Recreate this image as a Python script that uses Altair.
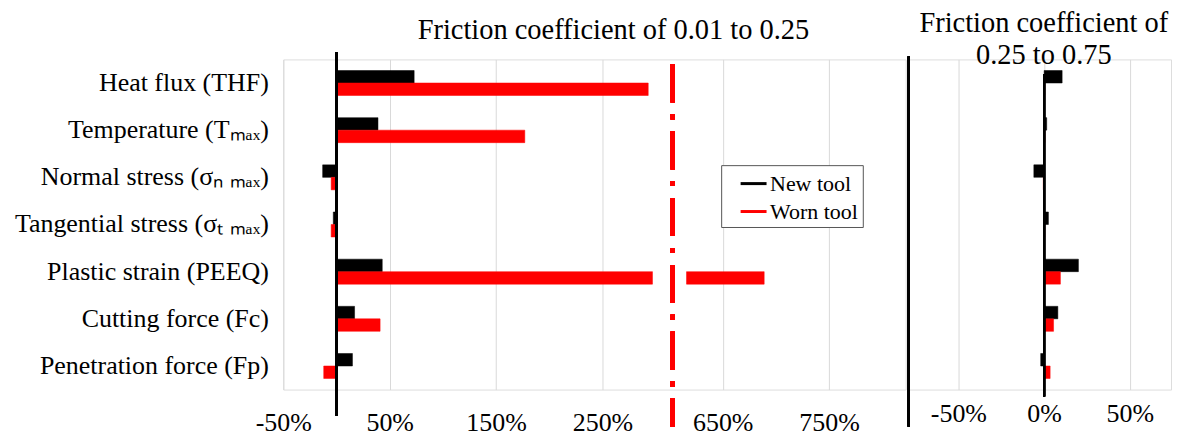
import altair as alt
import pandas as pd

# ---------------- data ----------------
categories = [
    "Heat flux (THF)",
    "Temperature (Tₘₐₓ)",
    "Normal stress (σₙ ₘₐₓ)",
    "Tangential stress (σₜ ₘₐₓ)",
    "Plastic strain (PEEQ)",
    "Cutting force (Fc)",
    "Penetration force (Fp)",
]
tools = ["New tool", "Worn tool"]
tool_colors = ["#000000", "#ff0000"]

# friction coefficient 0.01 -> 0.25 (percent change)
left_new = [73, 39, -13, -3, 43, 17, 15]
left_worn = [293, 177, -5, -5, 689, 41, -12]
# friction coefficient 0.25 -> 0.75 (percent change)
right_new = [10.5, 1.5, -6, 2.5, 20, 8, -2]
right_worn = [0.3, 0.5, -0.5, 0.3, 9.5, 5.5, 3.5]

left_ticks = [-50, 50, 150, 250, 650, 750]
right_ticks = [-50, 0, 50]

# broken axis of the left panel (true values)
BREAK_LOW = 297
BREAK_HIGH = 616
BREAK_GAP = 32
SHIFT = BREAK_HIGH - BREAK_LOW - BREAK_GAP


def disp(v):
    return v if v <= BREAK_LOW else v - SHIFT


def segments(new, worn, broken):
    rows = []
    for cat, a, b in zip(categories, new, worn):
        for tool, v in ((tools[0], a), (tools[1], b)):
            if broken and v > BREAK_LOW:
                rows.append(dict(cat=cat, tool=tool, x0=0, x1=BREAK_LOW, value=v))
                rows.append(dict(cat=cat, tool=tool, x0=BREAK_LOW + BREAK_GAP, x1=disp(v), value=v))
            else:
                rows.append(dict(cat=cat, tool=tool, x0=0, x1=v, value=v))
    return pd.DataFrame(rows)


left_df = segments(left_new, left_worn, True)
right_df = segments(right_new, right_worn, False)

FONT = "Liberation Serif"
H = 331
LW = 624
RW = 263
LABEL_SIZE = 26
TITLE_SIZE = 28.5


def make_legend():
    return alt.Legend(
        title=None,
        orient="none",
        legendX=439,
        legendY=106,
        symbolType="stroke",
        symbolSize=676,
        symbolStrokeWidth=3,
        symbolOffset=14,
        labelFont=FONT,
        labelFontSize=22,
        labelColor="#000000",
        labelOffset=2,
        rowPadding=2,
        padding=4,
        fillColor="#ffffff",
        strokeColor="#555555",
    )


color = alt.Color("tool:N", sort=tools, scale=alt.Scale(domain=tools, range=tool_colors),
                  legend=make_legend())
stroke = alt.Stroke("tool:N", sort=tools, scale=alt.Scale(domain=tools, range=tool_colors),
                    legend=make_legend())

yenc_left = alt.Y(
    "cat:N",
    sort=categories,
    scale=alt.Scale(paddingInner=0.47, paddingOuter=0.235),
    axis=alt.Axis(
        title=None, domain=False, ticks=False, labelPadding=15, labelLimit=400,
        minExtent=275, maxExtent=275, labelFont=FONT, labelFontSize=LABEL_SIZE,
        labelColor="#000000", grid=False,
    ),
)
yenc_right = alt.Y(
    "cat:N",
    sort=categories,
    scale=alt.Scale(paddingInner=0.47, paddingOuter=0.235),
    axis=None,
)
yoff = alt.YOffset("tool:N", sort=tools, scale=alt.Scale(paddingInner=0))

left_tick_disp = [disp(t) for t in left_ticks]
left_bars = alt.Chart(left_df).mark_bar(strokeWidth=0.5).encode(
    x=alt.X(
        "x0:Q",
        scale=alt.Scale(domain=[-50, 535], nice=False, zero=False),
        axis=alt.Axis(
            title=None, values=left_tick_disp, domain=False, ticks=False,
            labelExpr=f"(datum.value > {BREAK_LOW} ? datum.value + {SHIFT} : datum.value) + '%'",
            labelFont=FONT, labelFontSize=LABEL_SIZE, labelColor="#000000", labelPadding=20,
            labelFlush=False,
            grid=True, gridColor="#d9d9d9", gridWidth=1,
        ),
    ),
    x2="x1:Q",
    y=yenc_left,
    yOffset=yoff,
    color=color,
    stroke=stroke,
)
left_zero = alt.Chart(left_df).mark_rule(color="#000000", strokeWidth=2).encode(
    x=alt.datum(0), y=alt.value(-7), y2=alt.value(H + 26)
)
left_break = alt.Chart(left_df).mark_rule(
    color="#ff0000", strokeWidth=4.5, strokeDash=[38, 12, 5, 12]
).encode(x=alt.datum(BREAK_LOW + 19), y=alt.value(5), y2=alt.value(368))

left = alt.layer(left_bars, left_zero, left_break).properties(
    width=LW,
    height=H,
    title=alt.TitleParams(
        "Friction coefficient of 0.01 to 0.25", font=FONT, fontSize=TITLE_SIZE,
        fontWeight="normal", color="#000000", anchor="middle", frame="group",
        dx=19, offset=7,
    ),
)

right_bars = alt.Chart(right_df).mark_bar(strokeWidth=0.5).encode(
    x=alt.X(
        "x0:Q",
        scale=alt.Scale(domain=[-79, 74], nice=False, zero=False),
        axis=alt.Axis(
            title=None, values=right_ticks, domain=False, ticks=False,
            labelExpr="datum.value + '%'", labelFlush=False,
            labelFont=FONT, labelFontSize=LABEL_SIZE, labelColor="#000000", labelPadding=11,
            grid=True, gridColor="#d9d9d9", gridWidth=1,
        ),
    ),
    x2="x1:Q",
    y=yenc_right,
    yOffset=yoff,
    color=color,
    stroke=stroke,
)
right_zero = alt.Chart(right_df).mark_rule(color="#000000", strokeWidth=2).encode(
    x=alt.datum(0), y=alt.value(15), y2=alt.value(H + 7)
)
right_sep = alt.Chart(right_df).mark_rule(color="#000000", strokeWidth=2).encode(
    x=alt.value(0), y=alt.value(-3), y2=alt.value(368)
)
right = alt.layer(right_bars, right_zero, right_sep).properties(
    width=RW,
    height=H,
    title=alt.TitleParams(
        ["Friction coefficient of", "0.25 to 0.75"], font=FONT, fontSize=TITLE_SIZE,
        fontWeight="normal", color="#000000", anchor="middle", frame="group",
        dx=4, offset=-14.5, lineHeight=32,
    ),
)

chart = (
    alt.hconcat(left, right, spacing=0)
    .resolve_scale(x="independent")
    .properties(padding={"left": 0, "top": 0, "right": 0, "bottom": 0})
    .configure_view(stroke=None)
    .configure(font=FONT)
)

chart.save("out.html", embed_options={"renderer": "svg", "actions": False})
